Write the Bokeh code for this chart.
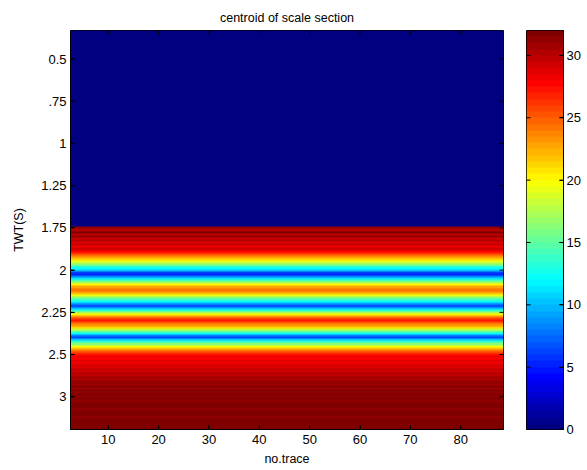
import numpy as np
from bokeh.plotting import figure
from bokeh.models import Range1d, FixedTicker, LinearColorMapper
from bokeh.layouts import row
from bokeh.embed import file_html
from bokeh.resources import INLINE

# ---------------- data ----------------
title_text = "centroid of scale section"
x_label = "no.trace"
y_label = "TWT(S)"
trace_first = 3
trace_last = 88
n_blank_rows = 93          # upper part of the section: value 0
band_values = [            # rows 94 .. 189 (value of centroid of scale)
    31, 30, 32, 29.5, 31, 29, 30, 28.5, 29.5, 28,
    29, 27.5, 26, 24, 22.5, 21, 19, 17, 15, 12,
    10, 6, 5, 8, 11, 14, 17, 20, 22.5, 24,
    23.5, 21.5, 19, 16, 14, 12, 9, 6.5, 10, 13,
    17, 20, 23, 25.5, 27, 25, 23, 21, 18, 15,
    12, 8, 6, 10, 13, 16, 19.5, 21.5, 24, 25.5,
    27, 28, 27.5, 28.5, 28, 29, 28.5, 29.5, 29, 30,
    29.5, 30.5, 30, 31, 30.5, 31.5, 30.5, 31.5, 31, 32,
    31, 32, 31, 32, 31.5, 32, 31, 32, 31.5, 32,
    31, 32, 31.5, 32, 31.5, 32,
]
ytick_rows = [14, 34, 54, 74, 94, 114, 134, 154, 174]
ytick_labels = ["0.5", ".75", "1", "1.25", "1.75", "2", "2.25", "2.5", "3"]
xticks = [10, 20, 30, 40, 50, 60, 70, 80]
cbar_ticks = [0, 5, 10, 15, 20, 25, 30]
clim_low, clim_high = 0, 32

# ---------------- colormap (jet, 64 levels) ----------------
def jet(n):
    cols = []
    for i in range(n):
        t = i / (n - 1)
        r = min(max(1.5 - abs(4 * t - 3), 0), 1)
        g = min(max(1.5 - abs(4 * t - 2), 0), 1)
        b = min(max(1.5 - abs(4 * t - 1), 0), 1)
        cols.append("#%02x%02x%02x" % (int(round(r * 255)), int(round(g * 255)), int(round(b * 255))))
    return cols

palette = jet(64)
mapper = LinearColorMapper(palette=palette, low=clim_low, high=clim_high)

profile = np.array([0.0] * n_blank_rows + band_values)
n_rows = len(profile)
n_cols = trace_last - trace_first + 1
Z = np.tile(profile[:, None], (1, n_cols))

FONT = "Liberation Sans"
FS = "13px"
FS_TITLE = "12.5px"
TICK = 4  # px

W_MAIN, W_CB, H = 513, 74, 470
LEFT, RIGHT = 70, 10
TOP, BOTTOM = 30, 41
FRAME_W = W_MAIN - LEFT - RIGHT
FRAME_H = H - TOP - BOTTOM

x0, x1 = trace_first - 0.5, trace_last + 0.5
y_top, y_bot = 0.5, n_rows + 0.5

p = figure(width=W_MAIN, height=H, output_backend="svg", toolbar_location=None,
           x_range=Range1d(x0, x1), y_range=Range1d(y_bot, y_top),
           min_border_left=LEFT, min_border_right=RIGHT,
           min_border_top=TOP, min_border_bottom=BOTTOM,
           title=title_text)
img = p.image(image=[Z], x=x0, y=y_top, dw=n_cols, dh=n_rows, color_mapper=mapper)
img.level = "image"

p.title.align = "center"
p.title.text_font = FONT
p.title.text_font_size = FS_TITLE
p.title.text_font_style = "normal"
p.title.text_color = "black"
p.title.standoff = 11
p.grid.visible = False
p.outline_line_color = "black"
p.outline_line_width = 1
p.background_fill_color = "white"
p.border_fill_color = "white"

def style(ax):
    ax.major_tick_in = TICK
    ax.major_tick_out = 0
    ax.minor_tick_line_color = None
    ax.axis_line_color = "black"
    ax.major_tick_line_color = "black"
    ax.major_label_text_font = FONT
    ax.major_label_text_font_size = FS
    ax.major_label_text_color = "black"
    ax.axis_label_text_font = FONT
    ax.axis_label_text_font_size = FS_TITLE
    ax.axis_label_text_font_style = "normal"
    ax.axis_label_text_color = "black"

xa = p.xaxis[0]
style(xa)
xa.ticker = FixedTicker(ticks=xticks)
xa.axis_label = x_label
xa.major_label_standoff = 5
xa.axis_label_standoff = 5

ya = p.yaxis[0]
style(ya)
ya.ticker = FixedTicker(ticks=ytick_rows)
ya.major_label_overrides = {t: l for t, l in zip(ytick_rows, ytick_labels)}
ya.axis_label = y_label
ya.major_label_standoff = 4
ya.axis_label_standoff = 12

# mirrored (box) ticks on all four sides, from the same tick arrays
dy = TICK / FRAME_H * (y_bot - y_top)
dx = TICK / FRAME_W * (x1 - x0)
for seg in (
    dict(x0=xticks, y0=[y_top] * len(xticks), x1=xticks, y1=[y_top + dy] * len(xticks)),
    dict(x0=xticks, y0=[y_bot] * len(xticks), x1=xticks, y1=[y_bot - dy] * len(xticks)),
    dict(x0=[x1] * len(ytick_rows), y0=ytick_rows, x1=[x1 - dx] * len(ytick_rows), y1=ytick_rows),
    dict(x0=[x0] * len(ytick_rows), y0=ytick_rows, x1=[x0 + dx] * len(ytick_rows), y1=ytick_rows),
):
    r = p.segment(line_color="black", line_width=1, **seg)
    r.level = "overlay"

# ---------------- colour bar ----------------
CB_LEFT, CB_W = 13, 37
cb = figure(width=W_CB, height=H, output_backend="svg", toolbar_location=None,
            x_range=Range1d(0, 1), y_range=Range1d(clim_low, clim_high),
            min_border_left=CB_LEFT, min_border_right=W_CB - CB_LEFT - CB_W,
            min_border_top=TOP, min_border_bottom=BOTTOM,
            x_axis_location=None, y_axis_location="right")
levels = clim_low + (np.arange(len(palette)) + 0.5) / len(palette) * (clim_high - clim_low)
cbimg = cb.image(image=[levels[:, None]], x=0, y=clim_low, dw=1, dh=clim_high - clim_low, color_mapper=mapper)
cbimg.level = "image"
cb.grid.visible = False
cb.outline_line_color = "black"
cb.border_fill_color = "white"
cr = cb.yaxis[0]
style(cr)
cr.ticker = FixedTicker(ticks=cbar_ticks)
cr.major_label_standoff = 3
cdx = TICK / CB_W
for seg in (
    dict(x0=[0] * len(cbar_ticks), y0=cbar_ticks, x1=[cdx] * len(cbar_ticks), y1=cbar_ticks),
    dict(x0=[1] * len(cbar_ticks), y0=cbar_ticks, x1=[1 - cdx] * len(cbar_ticks), y1=cbar_ticks),
):
    r = cb.segment(line_color="black", line_width=1, **seg)
    r.level = "overlay"

layout = row(p, cb)
open("out.html", "w").write(file_html(layout, INLINE))
